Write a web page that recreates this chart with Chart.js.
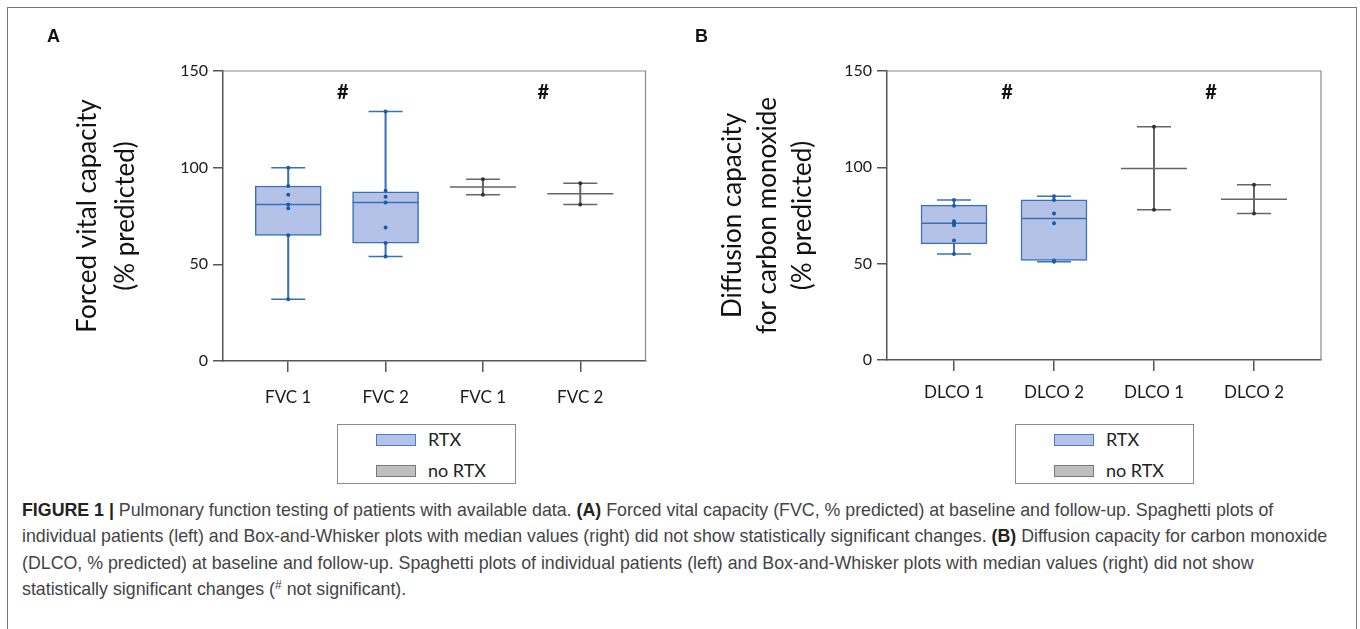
<!DOCTYPE html>
<html>
<head>
<meta charset="utf-8">
<script src="https://cdn.jsdelivr.net/npm/chart.js@4.4.1/dist/chart.umd.min.js"></script>
<style>
html,body{margin:0;padding:0;background:#fff;width:1360px;height:629px;overflow:hidden;}
#frame{position:absolute;left:7px;top:7px;width:1350px;height:700px;border:1.5px solid #777;box-sizing:border-box;}
canvas{position:absolute;top:0;}
#cA{left:0;}
#cB{left:680px;}
.letter{position:absolute;top:27px;font:bold 18px 'Liberation Sans',Arial,sans-serif;color:#111;line-height:18px;}
.legend{position:absolute;top:424px;width:179px;height:60px;border:1px solid #8a8a8a;box-sizing:border-box;font:18px Lato,sans-serif;color:#222;}
.legend .sw{position:absolute;left:38px;width:40px;height:12px;box-sizing:border-box;}
.legend .tx{position:absolute;left:90px;line-height:20px;}
#caption{position:absolute;left:22px;top:497px;font:17.8px 'Liberation Sans',Arial,sans-serif;line-height:26.3px;color:#444;white-space:nowrap;}
#caption b{color:#222;}
#caption sup{font-size:12px;vertical-align:6px;line-height:0;}
</style>
</head>
<body>
<div id="frame"></div>
<canvas id="cA" width="680" height="420"></canvas>
<canvas id="cB" width="680" height="420"></canvas>
<div class="letter" style="left:47px;">A</div>
<div class="letter" style="left:695px;">B</div>

<div class="legend" style="left:337px;">
  <div class="sw" style="top:9px;background:#b3c2e6;border:1px solid #4a7cc0;"></div>
  <div class="tx" style="top:4px;">RTX</div>
  <div class="sw" style="top:40px;background:#bfbfbf;border:1px solid #7a7a7a;"></div>
  <div class="tx" style="top:35px;">no RTX</div>
</div>
<div class="legend" style="left:1015px;">
  <div class="sw" style="top:9px;background:#b3c2e6;border:1px solid #4a7cc0;"></div>
  <div class="tx" style="top:4px;">RTX</div>
  <div class="sw" style="top:40px;background:#bfbfbf;border:1px solid #7a7a7a;"></div>
  <div class="tx" style="top:35px;">no RTX</div>
</div>

<div id="caption"><b>FIGURE 1 |</b> Pulmonary function testing of patients with available data. <b>(A)</b> Forced vital capacity (FVC, % predicted) at baseline and follow-up. Spaghetti plots of<br>individual patients (left) and Box-and-Whisker plots with median values (right) did not show statistically significant changes. <b>(B)</b> Diffusion capacity for carbon monoxide<br>(DLCO, % predicted) at baseline and follow-up. Spaghetti plots of individual patients (left) and Box-and-Whisker plots with median values (right) did not show<br>statistically significant changes (<sup>#</sup> not significant).</div>

<script>
// ---------- data ----------
const groupOf = ['RTX', 'RTX', 'no RTX', 'no RTX'];
const yTicks = [0, 50, 100, 150];

const fvcCats = ['FVC 1', 'FVC 2', 'FVC 1', 'FVC 2'];
const fvcMin = [32, 54, 86, 81];
const fvcQ1 = [65, 61, null, null];
const fvcMed = [81, 82, 90, 86.5];
const fvcQ3 = [90.5, 87.5, null, null];
const fvcMax = [100, 129, 94, 92];
const fvcPoints = [
  [100, 90.5, 86, 81, 79, 65, 32],
  [129, 88, 85, 82, 69, 61, 54],
  [94, 86],
  [92, 81]
];

const dlcoCats = ['DLCO 1', 'DLCO 2', 'DLCO 1', 'DLCO 2'];
const dlcoMin = [55, 51, 78, 76];
const dlcoQ1 = [60.3, 51.7, null, null];
const dlcoMed = [71, 73.4, 99.4, 83.4];
const dlcoQ3 = [80.4, 83.1, null, null];
const dlcoMax = [83, 85, 121, 91];
const dlcoPoints = [
  [83, 80, 72, 71, 70, 62, 55],
  [85, 83, 76, 71, 51.7, 51],
  [121, 78],
  [91, 76]
];

const hashMark = '#';
const hashY = 138.6;

// ---------- styles ----------
const RTX_LINE = '#3a70b6', RTX_FILL = '#b3c2e6', RTX_DOT = '#1d5aa6';
const NO_LINE = '#666666', NO_DOT = '#333333';
const lineCol = i => groupOf[i] === 'RTX' ? RTX_LINE : NO_LINE;
const dotCol = i => groupOf[i] === 'RTX' ? RTX_DOT : NO_DOT;

const framePlugin = {
  id: 'frame',
  beforeDatasetsDraw(chart) {
    const {ctx, chartArea: a} = chart;
    ctx.save();
    ctx.strokeStyle = '#8a8a8a';
    ctx.lineWidth = 1.2;
    ctx.beginPath();
    ctx.moveTo(a.left, a.top);
    ctx.lineTo(a.right, a.top);
    ctx.lineTo(a.right, a.bottom);
    ctx.stroke();
    ctx.restore();
  }
};

const hashPlugin = {
  id: 'hash',
  afterDraw(chart, args, opts) {
    const {ctx, scales: {x, y}} = chart;
    ctx.save();
    ctx.fillStyle = '#111';
    ctx.font = 'bold 20px Lato, sans-serif';
    ctx.textAlign = 'center';
    ctx.textBaseline = 'middle';
    (opts.xs || []).forEach(v => ctx.fillText(hashMark, x.getPixelForValue(v), y.getPixelForValue(hashY)));
    ctx.restore();
  }
};

function build(id, cats, mn, q1, md, q3, mx, pts, cfg) {
  const whisk = cats.map((c, i) => ({x: i + 1, y: [mn[i], mx[i]], g: i}));
  const boxes = [];
  cats.forEach((c, i) => { if (q1[i] != null) boxes.push({x: i + 1, y: [q1[i], q3[i]], g: i}); });
  const caps = [];
  cats.forEach((c, i) => { caps.push({x: i + 1, y: mn[i], g: i}); caps.push({x: i + 1, y: mx[i], g: i}); });
  const meds = cats.map((c, i) => ({x: i + 1, y: md[i], g: i}));
  const dots = [];
  pts.forEach((arr, i) => arr.forEach(v => dots.push({x: i + 1, y: v, g: i})));

  return new Chart(document.getElementById(id), {
    type: 'bar',
    data: {
      datasets: [
        {type: 'bar', label: 'whiskers', data: whisk, grouped: false, barThickness: 1.4, borderWidth: 0,
         backgroundColor: c => lineCol(c.raw ? c.raw.g : 0), order: 4},
        {type: 'bar', label: 'boxes', data: boxes, grouped: false, barThickness: 66, borderWidth: 1.5,
         borderSkipped: false, backgroundColor: RTX_FILL, borderColor: RTX_LINE, order: 3},
        {type: 'scatter', label: 'medians', data: meds, pointStyle: 'line', pointRadius: 33, pointBorderWidth: 1.5,
         pointBorderColor: c => lineCol(c.raw ? c.raw.g : 0), order: 2},
        {type: 'scatter', label: 'caps', data: caps, pointStyle: 'line', pointRadius: 17, pointBorderWidth: 1.5,
         pointBorderColor: c => lineCol(c.raw ? c.raw.g : 0), order: 1},
        {type: 'scatter', label: 'points', data: dots, pointStyle: 'circle', pointRadius: 2, pointBorderWidth: 0,
         pointBackgroundColor: c => dotCol(c.raw ? c.raw.g : 0), order: 0}
      ]
    },
    options: {
      responsive: false,
      animation: false,
      events: [],
      layout: {padding: {left: 0, top: 71, right: cfg.padRight, bottom: 0}},
      plugins: {legend: {display: false}, tooltip: {enabled: false}, hash: {xs: cfg.hashXs}},
      scales: {
        x: {
          type: 'linear', min: 0.33, max: 4.67, offset: false,
          afterBuildTicks: s => { s.ticks = cats.map((c, i) => ({value: i + 1})); },
          afterFit: s => { s.height = cfg.xHeight; },
          ticks: {callback: (v, i) => cats[i], font: {family: 'Lato', size: 17}, color: '#1a1a1a',
                  padding: cfg.xPad, autoSkip: false, maxRotation: 0},
          grid: {drawOnChartArea: false, offset: false, tickLength: 11, color: '#555', lineWidth: 1.5},
          border: {color: '#555', width: 1.5}
        },
        y: {
          min: 0, max: 150,
          afterBuildTicks: s => { s.ticks = yTicks.map(v => ({value: v})); },
          afterFit: s => { s.width = cfg.yWidth; },
          ticks: {font: {family: 'Lato', size: 16}, color: '#1a1a1a', padding: 5},
          grid: {drawOnChartArea: false, offset: false, tickLength: 10, color: '#555', lineWidth: 1.5},
          border: {color: '#555', width: 1.5},
          title: {display: true, text: cfg.title, color: '#111',
                  font: {family: 'Lato', size: 26, lineHeight: cfg.titleLH},
                  padding: {top: cfg.titlePad, bottom: 0}}
        }
      }
    },
    plugins: [framePlugin, hashPlugin]
  });
}

build('cA', fvcCats, fvcMin, fvcQ1, fvcMed, fvcQ3, fvcMax, fvcPoints, {
  padRight: 22, xHeight: 59, yWidth: 223, xPad: 15,
  title: ['Forced vital capacity', '(% predicted)'], titleLH: 1.46, titlePad: 69,
  hashXs: [1.56, 3.62]
});
build('cB', dlcoCats, dlcoMin, dlcoQ1, dlcoMed, dlcoQ3, dlcoMax, dlcoPoints, {
  padRight: 39, xHeight: 60, yWidth: 207, xPad: 11,
  title: ['Diffusion capacity', 'for carbon monoxide', '(% predicted)'], titleLH: 1.35, titlePad: 35,
  hashXs: [1.53, 3.57]
});
</script>
</body>
</html>
